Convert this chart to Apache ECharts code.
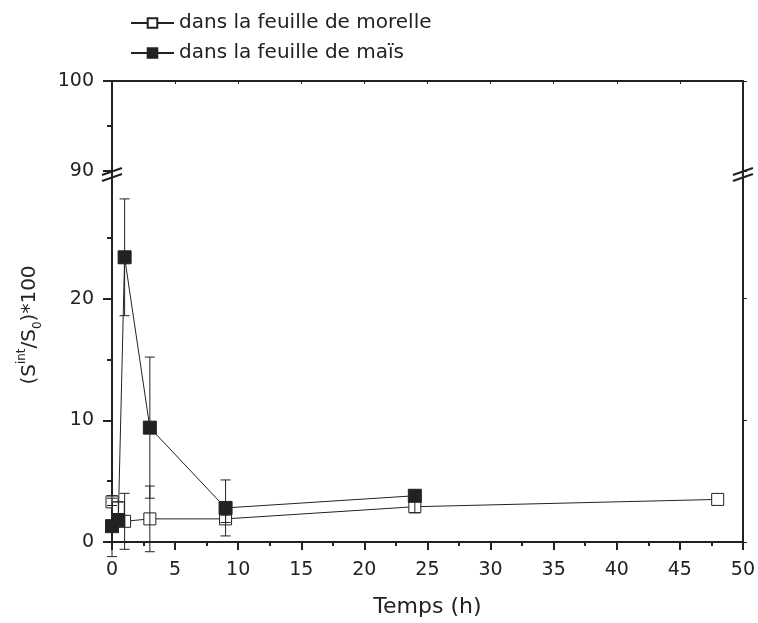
<!DOCTYPE html>
<html><head><meta charset="utf-8">
<script src="https://cdn.jsdelivr.net/npm/echarts@6/dist/echarts.min.js"></script>
<style>html,body{margin:0;padding:0;background:#fff}#c{width:758px;height:623px}</style>
</head><body><div id="c"></div>
<script>
// Data
var seriesNames = ['dans la feuille de morelle', 'dans la feuille de maïs'];
var morelleTime = [0, 0.5, 1, 3, 9, 24, 48];
var morelleValue = [3.3, 2.8, 1.7, 1.9, 1.9, 2.9, 3.5];
var morelleErr = [0.3, 0.5, 2.3, 2.7, 0.3, 0.5, 0];
var maisTime = [0, 0.5, 1, 3, 9, 24];
var maisValue = [1.3, 1.8, 23.4, 9.4, 2.8, 3.8];
var maisErr = [2.5, 0.4, 4.8, 5.8, 2.3, 0.3];
var xTicks = [0, 5, 10, 15, 20, 25, 30, 35, 40, 45, 50];
var yLowerTicks = [0, 10, 20];
var yUpperTicks = [90, 100];

var font = '"DejaVu Sans", "Liberation Sans", Arial, sans-serif';
var ink = '#222';
function pairs(xs, ys){ return xs.map(function(x,i){return [x, ys[i]];}); }
function triples(xs, ys, es){ return xs.map(function(x,i){return [x, ys[i], es[i]];}); }

var chart = echarts.init(document.getElementById('c'));
var axisLine = {show:true, lineStyle:{color:ink, width:2}};
var GL = 112, GR = 15;
function errRender(params, api){
  var x = api.value(0), y = api.value(1), e = api.value(2);
  if (!e) return null;
  var top = api.coord([x, y + e]), bot = api.coord([x, y - e]);
  var w = 5;
  var st = {stroke: ink, lineWidth: 1};
  return {type:'group', children:[
    {type:'line', shape:{x1:top[0], y1:top[1], x2:bot[0], y2:bot[1]}, style:st},
    {type:'line', shape:{x1:top[0]-w, y1:top[1], x2:top[0]+w, y2:top[1]}, style:st},
    {type:'line', shape:{x1:bot[0]-w, y1:bot[1], x2:bot[0]+w, y2:bot[1]}, style:st}
  ]};
}
var option = {
  animation:false,
  textStyle:{fontFamily:font},
  legend:{
    orient:'vertical', left:125, top:8, itemWidth:43, itemHeight:12, itemGap:10,
    data: seriesNames,
    textStyle:{fontSize:20, color:ink, fontFamily:font}
  },
  grid:[
    {left:GL, right:GR, top:81, height:90},
    {left:GL, right:GR, top:177, height:366}
  ],
  xAxis:[
    {gridIndex:0, type:'value', position:'top', min:0, max:50, interval:5,
     axisLine:axisLine, axisTick:{show:true, inside:true, length:3, lineStyle:{color:ink}},
     axisLabel:{show:false}, splitLine:{show:false}},
    {gridIndex:1, type:'value', position:'bottom', min:0, max:50, interval:5,
     axisLine:axisLine, axisTick:{show:true, length:8, lineStyle:{color:ink, width:2}},
     minorTick:{show:true, splitNumber:2, length:4, lineStyle:{color:ink, width:2}},
     axisLabel:{fontSize:19, color:ink, margin:19, fontFamily:font,
       customValues: xTicks},
     splitLine:{show:false}, minorSplitLine:{show:false},
     name:'Temps (h)', nameLocation:'middle', nameGap:54,
     nameTextStyle:{fontSize:22, color:ink, fontFamily:font}}
  ],
  yAxis:[
    {gridIndex:0, type:'value', position:'left', min:90, max:100, interval:10,
     axisLine:axisLine, axisTick:{show:true, length:9, lineStyle:{color:ink, width:2}},
     minorTick:{show:true, splitNumber:2, length:5, lineStyle:{color:ink, width:2}},
     axisLabel:{fontSize:19, color:ink, margin:18, fontFamily:font, customValues: yUpperTicks},
     splitLine:{show:false}, minorSplitLine:{show:false}},
    {gridIndex:0, type:'value', position:'right', min:90, max:100, interval:10,
     axisLine:axisLine, axisTick:{show:true, length:4, lineStyle:{color:ink}},
     axisLabel:{show:false}, splitLine:{show:false}},
    {gridIndex:1, type:'value', position:'left', min:0, max:30, interval:10,
     axisLine:axisLine,
     axisTick:{show:true, length:9, lineStyle:{color:ink, width:2}, customValues: yLowerTicks},
     minorTick:{show:true, splitNumber:2, length:5, lineStyle:{color:ink, width:2}},
     axisLabel:{fontSize:19, color:ink, margin:18, fontFamily:font, customValues: yLowerTicks},
     splitLine:{show:false}, minorSplitLine:{show:false}},
    {gridIndex:1, type:'value', position:'right', min:0, max:30, interval:10,
     axisLine:axisLine, axisTick:{show:true, length:4, lineStyle:{color:ink}, customValues: yLowerTicks},
     axisLabel:{show:false}, splitLine:{show:false}}
  ],
  series:[
    {name:seriesNames[0], type:'line', xAxisIndex:1, yAxisIndex:2,
     data: pairs(morelleTime, morelleValue),
     symbol:'rect', symbolSize:12, showAllSymbol:true,
     lineStyle:{color:ink, width:1},
     itemStyle:{color:'#fff', borderColor:ink, borderWidth:1}, z:2},
    {name:seriesNames[1], type:'line', xAxisIndex:1, yAxisIndex:2,
     data: pairs(maisTime, maisValue),
     symbol:'rect', symbolSize:13, showAllSymbol:true,
     lineStyle:{color:ink, width:1},
     itemStyle:{color:ink, borderColor:ink, borderWidth:1}, z:3},
    {type:'custom', xAxisIndex:1, yAxisIndex:2, renderItem:errRender,
     data: triples(morelleTime, morelleValue, morelleErr), z:4, silent:true},
    {type:'custom', xAxisIndex:1, yAxisIndex:2, renderItem:errRender,
     data: triples(maisTime, maisValue, maisErr), z:4, silent:true}
  ]
};
chart.setOption(option);

// axis break decoration
var xL = chart.convertToPixel({xAxisIndex:1}, 0);
var xR = chart.convertToPixel({xAxisIndex:1}, 50);
var yTop = chart.convertToPixel({yAxisIndex:0}, 90);
var yBot = chart.convertToPixel({yAxisIndex:2}, 30);
var yMid = (yTop + yBot) / 2;
function breakMarks(x){
  var s = {stroke: ink, lineWidth: 2};
  return [
    {type:'line', shape:{x1:x, y1:yTop, x2:x, y2:yBot}, style:s, z:10},
    {type:'line', shape:{x1:x-10, y1:yMid+1, x2:x+10, y2:yMid-6}, style:s, z:10},
    {type:'line', shape:{x1:x-10, y1:yMid+7, x2:x+10, y2:yMid}, style:s, z:10}
  ];
}
chart.setOption({graphic:[].concat(breakMarks(xL), breakMarks(xR), [
  {type:'text', x:30, y:325, rotation:Math.PI/2, z:10,
   style:{text:'{a|(S}{sup|int}{a|/S}{sub|0}{a|)*100}', align:'center', verticalAlign:'middle',
     fill: ink, font: '20px ' + font,
     rich:{
       a:{fontSize:20, fontFamily:font, fill:ink, lineHeight:28, verticalAlign:'middle'},
       sup:{fontSize:12, fontFamily:font, fill:ink, lineHeight:28, verticalAlign:'top'},
       sub:{fontSize:12, fontFamily:font, fill:ink, lineHeight:28, verticalAlign:'bottom'}
     }}}
])});
</script></body></html>
